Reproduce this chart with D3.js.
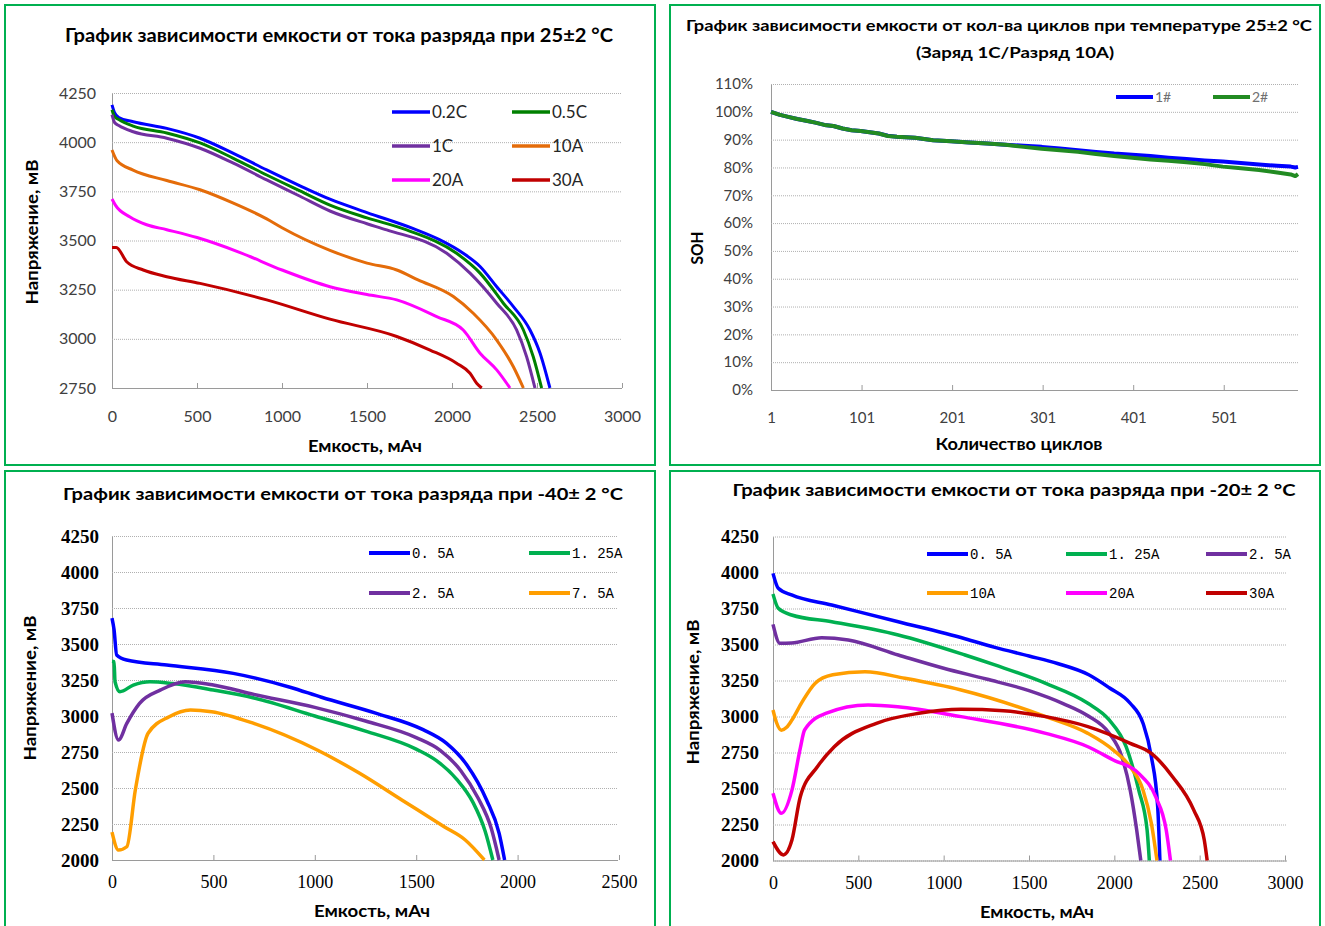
<!DOCTYPE html>
<meta charset="utf-8">
<style>
  body { margin: 0; background: #fff; }
  svg { display: block; font-family: Lato, "Open Sans", "DejaVu Sans", sans-serif; }
</style>
<body>
<script src="https://d3js.org/d3.v7.min.js"></script>
<script>

// ---- data: 25 °C discharge, [capacity mAh, voltage mV]
var t25Names = ["0.2C", "0.5C", "1C", "10A", "20A", "30A"];
var t25_02C = [[0,4190],[15,4150],[40,4125],[125,4104],[322,4070],[518,4020],[714,3943],[910,3859],[1106,3778],[1282,3710],[1500,3642],[1773,3560],[1929,3503],[2066,3435],[2165,3368],[2263,3265],[2361,3164],[2459,3045],[2518,2927],[2576,2750]];
var t25_05C = [[0,4165],[15,4130],[40,4115],[125,4082],[322,4047],[518,3996],[714,3918],[910,3833],[1106,3752],[1282,3680],[1500,3615],[1733,3554],[2027,3435],[2165,3334],[2302,3181],[2420,3045],[2478,2909],[2527,2750]];
var t25_1C  = [[0,4140],[15,4100],[40,4085],[125,4053],[322,4020],[518,3969],[714,3893],[910,3808],[1106,3725],[1282,3650],[1500,3585],[1616,3554],[1969,3435],[2106,3334],[2263,3181],[2380,3045],[2439,2909],[2488,2750]];
var t25_10A = [[0,3960],[30,3905],[124,3858],[322,3805],[518,3758],[714,3690],[910,3610],[1000,3565],[1282,3450],[1500,3385],[1675,3350],[1800,3300],[2008,3215],[2125,3130],[2263,2994],[2361,2858],[2420,2750]];
var t25_20A = [[0,3711],[20,3680],[106,3620],[204,3580],[322,3555],[500,3515],[750,3440],[1000,3350],[1282,3265],[1500,3225],[1675,3198],[1910,3113],[2066,3045],[2165,2927],[2263,2842],[2341,2750]];
var t25_30A = [[0,3465],[25,3465],[86,3392],[184,3350],[322,3316],[518,3282],[910,3198],[1282,3100],[1675,3012],[1871,2943],[2027,2876],[2106,2825],[2145,2774],[2175,2750]];

// ---- data: cycle life, SOH %
var cycleNames = ["1#", "2#"];
var cycles = [1,10,20,30,40,50,60,70,80,90,100,120,130,140,160,180,200,220,240,260,280,300,320,340,360,380,400,420,440,460,480,500,520,540,560,575,580,583];
var soh1 = [100,99.0,98.2,97.4,96.8,96.1,95.3,94.9,94.0,93.4,93.1,92.2,91.4,91.0,90.7,89.8,89.4,89.0,88.6,88.2,87.8,87.4,86.8,86.2,85.6,85.0,84.6,84.1,83.5,83.0,82.5,82.1,81.6,81.1,80.6,80.3,80.0,80.2];
var soh2 = [100,99.0,98.2,97.4,96.8,96.1,95.3,94.9,94.0,93.4,93.1,92.2,91.3,91.0,90.7,89.8,89.4,89.0,88.6,88.2,87.4,86.7,86.2,85.6,84.8,84.1,83.5,82.9,82.4,81.9,81.2,80.3,79.7,79.1,78.2,77.5,76.9,77.6];

// ---- data: -40 °C discharge
var m40Names = ["0. 5A", "1. 25A", "2. 5A", "7. 5A"];
var m40_05A  = [[0,3680],[10,3600],[23,3424],[72,3389],[270,3354],[598,3296],[878,3200],[1033,3130],[1300,3020],[1534,2905],[1650,2810],[1750,2660],[1847,2417],[1909,2185],[1936,2000]];
var m40_125A = [[0,3380],[10,3377],[15,3238],[39,3169],[105,3215],[187,3238],[300,3225],[500,3180],[700,3125],[1000,3000],[1250,2895],[1500,2770],[1600,2690],[1700,2560],[1780,2400],[1840,2200],[1878,2000]];
var m40_25A  = [[0,3020],[32,2833],[73,2949],[136,3088],[240,3181],[360,3238],[500,3215],[700,3150],[1000,3060],[1250,2965],[1500,2850],[1620,2760],[1720,2620],[1805,2430],[1870,2220],[1909,2000]];
var m40_75A  = [[0,2194],[32,2069],[73,2092],[115,2486],[178,2880],[282,2995],[387,3042],[491,3030],[699,2949],[1012,2764],[1221,2602],[1429,2417],[1638,2231],[1742,2139],[1836,2000]];

// ---- data: -20 °C discharge
var m20Names = ["0. 5A", "1. 25A", "2. 5A", "10A", "20A", "30A"];
var m20_05A  = [[0,3994],[31,3890],[109,3844],[344,3774],[734,3658],[1125,3540],[1300,3480],[1500,3420],[1667,3368],[1850,3290],[1970,3200],[2093,3092],[2168,2953],[2217,2721],[2254,2374],[2267,2000]];
var m20_125A = [[0,3850],[31,3751],[109,3705],[344,3658],[734,3566],[1125,3427],[1300,3358],[1598,3230],[1845,3092],[1970,2976],[2069,2790],[2143,2489],[2192,2212],[2205,2000]];
var m20_25A  = [[0,3640],[41,3508],[109,3510],[285,3547],[441,3531],[734,3427],[1000,3335],[1250,3260],[1500,3180],[1700,3090],[1845,3005],[1970,2883],[2044,2721],[2093,2489],[2131,2212],[2155,2000]];
var m20_10A  = [[0,3045],[20,2960],[49,2905],[80,2925],[111,2976],[170,3100],[246,3230],[350,3290],[539,3311],[773,3265],[1102,3184],[1598,2999],[1845,2883],[1994,2767],[2093,2651],[2168,2489],[2217,2258],[2250,2000]];
var m20_20A  = [[0,2467],[49,2328],[111,2489],[160,2780],[185,2906],[309,3022],[557,3080],[731,3068],[1102,2999],[1598,2883],[1845,2790],[1994,2698],[2143,2605],[2242,2443],[2304,2212],[2329,2000]];
var m20_30A  = [[0,2131],[61,2039],[111,2142],[160,2443],[260,2651],[359,2790],[606,2953],[854,3022],[1102,3050],[1350,3040],[1598,2999],[1845,2930],[2093,2814],[2217,2744],[2341,2582],[2465,2351],[2527,2142],[2544,2000]];

// ---- tick labels
var voltTicks25 = [2750, 3000, 3250, 3500, 3750, 4000, 4250];
var voltTicksCold = [2000, 2250, 2500, 2750, 3000, 3250, 3500, 3750, 4000, 4250];
var capTicks3000 = [0, 500, 1000, 1500, 2000, 2500, 3000];
var capTicks2500 = [0, 500, 1000, 1500, 2000, 2500];
var sohTicks = [0, 10, 20, 30, 40, 50, 60, 70, 80, 90, 100, 110];
var cycleTicks = [1, 101, 201, 301, 401, 501];

var width = 1325,
    height = 926;

var svg = d3.select("body").append("svg")
    .attr("width", width)
    .attr("height", height);

var serif = "'Liberation Serif', 'DejaVu Serif', serif";
var mono = "'Liberation Mono', 'DejaVu Sans Mono', monospace";

function drawPanel(p) {
  var g = svg.append("g");

  g.append("rect")
    .attr("x", p.box[0]).attr("y", p.box[1])
    .attr("width", p.box[2]).attr("height", p.box[3])
    .attr("fill", "none").attr("stroke", "#00b050").attr("stroke-width", 2);

  var x = d3.scaleLinear().domain(p.xDomain).range([p.left, p.right]);
  var y = d3.scaleLinear().domain(p.yDomain).range([p.bottom, p.top]);

  // y axis + dotted gridlines
  var ya = g.append("g")
      .attr("transform", "translate(" + p.left + ",0)")
      .call(d3.axisLeft(y)
        .tickValues(p.yTicks)
        .tickSize(-(p.gridRight - p.left))
        .tickSizeOuter(0)
        .tickPadding(p.yPad)
        .tickFormat(p.yFormat));
  ya.select(".domain").attr("stroke", "#9a9a9a");
  ya.selectAll(".tick line").attr("stroke", "#b0b0b0").attr("stroke-dasharray", "1,1");
  ya.selectAll(".tick text")
    .attr("fill", p.tickColor)
    .style("font-family", p.yFont.family)
    .style("font-size", p.yFont.size + "px")
    .style("font-weight", p.yFont.weight);

  // x axis with small inside ticks
  var xa = g.append("g")
      .attr("transform", "translate(0," + p.bottom + ")")
      .call(d3.axisBottom(x)
        .tickValues(p.xTicks)
        .tickSizeInner(-5)
        .tickSizeOuter(0)
        .tickFormat(p.xFormat || d3.format("d")));
  xa.select(".domain").attr("stroke", "#9a9a9a").attr("d", "M" + p.left + ",0.5H" + p.gridRight);
  xa.selectAll(".tick line").attr("stroke", "#9a9a9a");
  xa.selectAll(".tick text")
    .attr("y", p.xLabelY - p.bottom).attr("dy", "0.35em")
    .attr("fill", p.tickColor)
    .style("font-family", p.xFont.family)
    .style("font-size", p.xFont.size + "px")
    .style("font-weight", p.xFont.weight);

  // series
  var line = d3.line()
      .x(function(d) { return x(d[0]); })
      .y(function(d) { return y(Math.max(p.yDomain[0], d[1])); })
      .curve(p.curve);

  p.series.forEach(function(s) {
    g.append("path")
      .datum(s.values)
      .attr("fill", "none")
      .attr("stroke", s.color)
      .attr("stroke-width", p.lineWidth)
      .attr("stroke-linejoin", "round")
      .attr("d", line);
  });

  // legend
  p.series.forEach(function(s, i) {
    var pos = p.legendPos[i];
    g.append("line")
      .attr("x1", pos[0]).attr("x2", pos[0] + p.legendLine)
      .attr("y1", pos[1]).attr("y2", pos[1])
      .attr("stroke", s.color).attr("stroke-width", p.legendWidth);
    g.append("text")
      .attr("x", pos[0] + p.legendLine + 2).attr("y", pos[1])
      .attr("dy", "0.35em")
      .attr("fill", p.legendFont.color)
      .style("font-family", p.legendFont.family)
      .style("font-size", p.legendFont.size + "px")
      .text(s.name);
  });

  // titles
  p.title.forEach(function(t) {
    g.append("text")
      .attr("x", t.x).attr("y", t.y)
      .attr("text-anchor", "middle")
      .attr("textLength", t.len)
      .attr("lengthAdjust", "spacingAndGlyphs")
      .style("font-size", t.size + "px")
      .style("font-weight", "bold")
      .text(t.text);
  });

  g.append("text")
    .attr("transform", "translate(" + p.yTitle.x + "," + p.yTitle.y + ")rotate(-90)")
    .attr("text-anchor", "middle")
    .attr("dy", "0.35em")
    .attr("textLength", p.yTitle.len)
    .attr("lengthAdjust", "spacingAndGlyphs")
    .style("font-size", "17px")
    .style("font-weight", "bold")
    .text(p.yTitle.text);

  g.append("text")
    .attr("x", p.xTitle.x).attr("y", p.xTitle.y)
    .attr("text-anchor", "middle")
    .attr("textLength", p.xTitle.len)
    .attr("lengthAdjust", "spacingAndGlyphs")
    .style("font-size", "17px")
    .style("font-weight", "bold")
    .text(p.xTitle.text);
}

function zipSeries(names, values, colors) {
  return names.map(function(n, i) { return { name: n, values: values[i], color: colors[i] }; });
}

var sans = { family: "Lato, 'Open Sans', sans-serif", size: 16, weight: "normal" };

// top-left: 25 °C
drawPanel({
  box: [5, 5, 650, 460],
  left: 112, right: 622, top: 93, bottom: 388, gridRight: 622,
  xDomain: [0, 3000], yDomain: [2750, 4250],
  xTicks: capTicks3000, yTicks: voltTicks25,
  yFormat: d3.format("d"),
  yPad: 16, xLabelY: 416,
  tickColor: "#404040",
  yFont: sans, xFont: sans,
  curve: d3.curveMonotoneX, lineWidth: 3,
  series: zipSeries(t25Names, [t25_02C, t25_05C, t25_1C, t25_10A, t25_20A, t25_30A],
    ["#0000ff", "#008000", "#7030a0", "#e46c0a", "#ff00ff", "#c00000"]),
  legendPos: [[392, 112], [512, 112], [392, 146], [512, 146], [392, 180], [512, 180]],
  legendLine: 38, legendWidth: 3.5,
  legendFont: { family: "Lato, sans-serif", size: 17, color: "#262626" },
  title: [{ text: "График зависимости емкости от тока разряда при 25±2 °C", x: 339, y: 42, len: 548, size: 18 }],
  yTitle: { text: "Напряжение, мВ", x: 32, y: 232, len: 145 },
  xTitle: { text: "Емкость, мАч", x: 365, y: 452, len: 114 }
});

// top-right: cycle life
drawPanel({
  box: [670, 5, 650, 460],
  left: 771, right: 1298, top: 84, bottom: 390, gridRight: 1298,
  xDomain: [1, 583], yDomain: [0, 110],
  xTicks: cycleTicks, yTicks: sohTicks,
  yFormat: function(d) { return d + "%"; },
  yPad: 18, xLabelY: 418,
  tickColor: "#404040",
  yFont: { family: "Lato, sans-serif", size: 15, weight: "normal" },
  xFont: { family: "Lato, sans-serif", size: 15, weight: "normal" },
  curve: d3.curveLinear, lineWidth: 4,
  series: zipSeries(cycleNames, [d3.zip(cycles, soh1), d3.zip(cycles, soh2)], ["#0000ff", "#228b22"]),
  legendPos: [[1116, 97], [1213, 97]],
  legendLine: 37, legendWidth: 4,
  legendFont: { family: "Lato, sans-serif", size: 14, color: "#707070" },
  title: [
    { text: "График зависимости емкости от кол-ва циклов при температуре 25±2 °C", x: 999, y: 31, len: 626, size: 16 },
    { text: "(Заряд 1С/Разряд 10А)", x: 1015, y: 58, len: 198, size: 16 }
  ],
  yTitle: { text: "SOH", x: 697, y: 248, len: 33 },
  xTitle: { text: "Количество циклов", x: 1019, y: 450, len: 167 }
});

var serifBold = { family: serif, size: 19, weight: "bold" };
var serifReg = { family: serif, size: 18, weight: "normal" };

// bottom-left: -40 °C
drawPanel({
  box: [5, 471, 650, 460],
  left: 112, right: 619, top: 536, bottom: 860, gridRight: 618,
  xDomain: [0, 2500], yDomain: [2000, 4250],
  xTicks: capTicks2500, yTicks: voltTicksCold,
  yFormat: d3.format("d"),
  yPad: 13, xLabelY: 882,
  tickColor: "#000",
  yFont: serifBold, xFont: serifReg,
  curve: d3.curveMonotoneX, lineWidth: 3.5,
  series: zipSeries(m40Names, [m40_05A, m40_125A, m40_25A, m40_75A],
    ["#0000ff", "#00b050", "#7030a0", "#ff9e00"]),
  legendPos: [[369, 553], [529, 553], [369, 593], [529, 593]],
  legendLine: 41, legendWidth: 4,
  legendFont: { family: mono, size: 14, color: "#000" },
  title: [{ text: "График зависимости емкости от тока разряда при -40± 2 °C", x: 343, y: 500, len: 560, size: 17 }],
  yTitle: { text: "Напряжение, мВ", x: 30, y: 688, len: 145 },
  xTitle: { text: "Емкость, мАч", x: 372, y: 917, len: 116 }
});

// bottom-right: -20 °C
drawPanel({
  box: [670, 471, 650, 460],
  left: 773, right: 1285, top: 536.5, bottom: 860.5, gridRight: 1287,
  xDomain: [0, 3000], yDomain: [2000, 4250],
  xTicks: capTicks3000, yTicks: voltTicksCold,
  yFormat: d3.format("d"),
  yPad: 14, xLabelY: 883,
  tickColor: "#000",
  yFont: serifBold, xFont: serifReg,
  curve: d3.curveMonotoneX, lineWidth: 3.5,
  series: zipSeries(m20Names, [m20_05A, m20_125A, m20_25A, m20_10A, m20_20A, m20_30A],
    ["#0000ff", "#00b050", "#7030a0", "#ff9e00", "#ff00ff", "#c00000"]),
  legendPos: [[927, 554], [1066, 554], [1206, 554], [927, 593], [1066, 593], [1206, 593]],
  legendLine: 41, legendWidth: 4,
  legendFont: { family: mono, size: 14, color: "#000" },
  title: [{ text: "График зависимости емкости от тока разряда при -20± 2 °C", x: 1014, y: 496, len: 563, size: 17 }],
  yTitle: { text: "Напряжение, мВ", x: 693, y: 692, len: 145 },
  xTitle: { text: "Емкость, мАч", x: 1037, y: 918, len: 114 }
});

</script>
</body>
</html>
